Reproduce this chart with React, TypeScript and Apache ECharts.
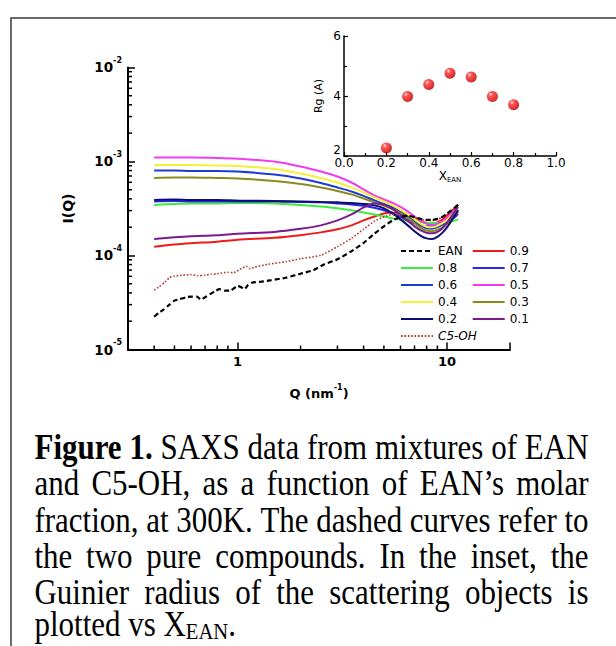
import React, { useEffect, useRef } from 'react';
import * as echarts from 'echarts';

// ---------- data ----------
const Q_MIX = [0.4, 0.5, 0.6, 0.8, 1, 1.5, 2, 2.5, 3, 3.5, 4, 4.5, 5, 5.5, 6, 6.5, 7, 7.5, 8, 8.5, 9, 9.5, 10, 10.5, 11, 11.3];

const I_09 = [1.24e-4, 1.31e-4, 1.35e-4, 1.40e-4, 1.47e-4, 1.54e-4, 1.64e-4, 1.76e-4, 1.90e-4, 2.09e-4, 2.36e-4, 2.60e-4, 2.80e-4, 2.87e-4, 2.80e-4, 2.64e-4, 2.45e-4, 2.31e-4, 2.22e-4, 2.20e-4, 2.25e-4, 2.39e-4, 2.64e-4, 2.94e-4, 3.24e-4, 3.45e-4];
const I_08 = [3.45e-4, 3.53e-4, 3.58e-4, 3.58e-4, 3.62e-4, 3.58e-4, 3.45e-4, 3.32e-4, 3.17e-4, 3.02e-4, 2.87e-4, 2.73e-4, 2.60e-4, 2.48e-4, 2.39e-4, 2.33e-4, 2.28e-4, 2.25e-4, 2.22e-4, 2.22e-4, 2.22e-4, 2.22e-4, 2.25e-4, 2.31e-4, 2.36e-4, 2.42e-4];
const I_07 = [3.76e-4, 3.80e-4, 3.76e-4, 3.76e-4, 3.76e-4, 3.76e-4, 3.71e-4, 3.67e-4, 3.58e-4, 3.49e-4, 3.37e-4, 3.21e-4, 3.02e-4, 2.80e-4, 2.57e-4, 2.36e-4, 2.20e-4, 2.09e-4, 2.04e-4, 2.04e-4, 2.07e-4, 2.14e-4, 2.25e-4, 2.42e-4, 2.60e-4, 2.77e-4];
const I_06 = [8.01e-4, 8.01e-4, 7.91e-4, 7.91e-4, 7.81e-4, 7.26e-4, 6.59e-4, 5.90e-4, 5.29e-4, 4.79e-4, 4.30e-4, 3.85e-4, 3.53e-4, 3.24e-4, 2.94e-4, 2.64e-4, 2.33e-4, 2.09e-4, 1.94e-4, 1.92e-4, 1.99e-4, 2.12e-4, 2.31e-4, 2.54e-4, 2.84e-4, 3.05e-4];
const I_05 = [1.10e-3, 1.10e-3, 1.10e-3, 1.09e-3, 1.07e-3, 9.97e-4, 8.83e-4, 7.81e-4, 6.92e-4, 5.97e-4, 5.04e-4, 4.35e-4, 3.94e-4, 3.62e-4, 3.28e-4, 2.94e-4, 2.60e-4, 2.33e-4, 2.17e-4, 2.12e-4, 2.17e-4, 2.31e-4, 2.51e-4, 2.80e-4, 3.17e-4, 3.49e-4];
const I_04 = [9.16e-4, 9.16e-4, 9.14e-4, 9.05e-4, 8.94e-4, 8.31e-4, 7.44e-4, 6.67e-4, 5.97e-4, 5.29e-4, 4.68e-4, 4.14e-4, 3.76e-4, 3.41e-4, 3.05e-4, 2.73e-4, 2.42e-4, 2.17e-4, 2.02e-4, 1.99e-4, 2.07e-4, 2.20e-4, 2.39e-4, 2.67e-4, 2.98e-4, 3.24e-4];
const I_03 = [6.67e-4, 6.75e-4, 6.75e-4, 6.67e-4, 6.59e-4, 6.20e-4, 5.76e-4, 5.29e-4, 4.86e-4, 4.46e-4, 4.04e-4, 3.67e-4, 3.37e-4, 3.09e-4, 2.80e-4, 2.48e-4, 2.20e-4, 1.97e-4, 1.83e-4, 1.81e-4, 1.87e-4, 1.99e-4, 2.17e-4, 2.42e-4, 2.70e-4, 2.91e-4];
const I_02 = [3.90e-4, 3.94e-4, 3.90e-4, 3.90e-4, 3.85e-4, 3.80e-4, 3.76e-4, 3.71e-4, 3.67e-4, 3.62e-4, 3.53e-4, 3.41e-4, 3.17e-4, 2.80e-4, 2.42e-4, 2.09e-4, 1.81e-4, 1.62e-4, 1.52e-4, 1.50e-4, 1.58e-4, 1.74e-4, 1.99e-4, 2.33e-4, 2.73e-4, 3.02e-4];
const I_01 = [1.50e-4, 1.56e-4, 1.60e-4, 1.64e-4, 1.70e-4, 1.78e-4, 1.92e-4, 2.09e-4, 2.36e-4, 2.73e-4, 3.24e-4, 3.58e-4, 3.49e-4, 3.13e-4, 2.70e-4, 2.33e-4, 2.04e-4, 1.85e-4, 1.74e-4, 1.72e-4, 1.78e-4, 1.94e-4, 2.22e-4, 2.60e-4, 3.02e-4, 3.28e-4];

const Q_EAN = [0.4, 0.42, 0.44, 0.47, 0.5, 0.53, 0.57, 0.6, 0.64, 0.67, 0.7, 0.74, 0.78, 0.82, 0.87, 0.92, 0.97, 1.0, 1.05, 1.08, 1.12, 1.17, 1.3, 1.45, 1.7, 2.0, 2.3, 2.6, 3.0, 3.5, 4.0, 4.5, 5.0, 5.5, 6, 6.5, 7, 7.5, 8, 8.5, 9, 9.5, 10, 10.5, 11, 11.3];
const I_EAN = [2.23e-5, 2.44e-5, 2.62e-5, 2.96e-5, 3.31e-5, 3.43e-5, 3.60e-5, 3.65e-5, 3.65e-5, 3.39e-5, 3.60e-5, 3.88e-5, 4.17e-5, 4.38e-5, 4.22e-5, 4.22e-5, 4.54e-5, 4.77e-5, 4.54e-5, 4.38e-5, 4.83e-5, 5.13e-5, 5.26e-5, 5.46e-5, 5.80e-5, 6.40e-5, 6.97e-5, 8.07e-5, 9.11e-5, 1.11e-4, 1.36e-4, 1.70e-4, 2.04e-4, 2.36e-4, 2.57e-4, 2.64e-4, 2.57e-4, 2.45e-4, 2.39e-4, 2.39e-4, 2.45e-4, 2.57e-4, 2.77e-4, 3.02e-4, 3.28e-4, 3.45e-4];

const Q_C5OH = [0.4, 0.42, 0.45, 0.475, 0.5, 0.55, 0.6, 0.65, 0.7, 0.75, 0.8, 0.9, 0.95, 1.05, 1.1, 1.15, 1.2, 1.4, 1.7, 2.0, 2.5, 3.0, 3.5, 4.0, 4.5, 5, 5.5, 6, 6.5, 7, 7.5, 8, 8.5, 9, 9.5, 10, 10.5, 11, 11.3];
const I_C5OH = [4.28e-5, 4.60e-5, 5.20e-5, 5.83e-5, 6.02e-5, 6.17e-5, 6.24e-5, 6.09e-5, 6.17e-5, 6.32e-5, 6.40e-5, 6.63e-5, 6.55e-5, 7.31e-5, 7.68e-5, 7.23e-5, 7.49e-5, 8.07e-5, 8.58e-5, 9.23e-5, 1.005e-4, 1.24e-4, 1.52e-4, 1.90e-4, 2.31e-4, 2.57e-4, 2.73e-4, 2.73e-4, 2.64e-4, 2.51e-4, 2.42e-4, 2.36e-4, 2.36e-4, 2.42e-4, 2.54e-4, 2.73e-4, 2.98e-4, 3.28e-4, 3.49e-4];

// inset: Guinier radius vs EAN molar fraction
const X_EAN_FRAC = [0.2, 0.3, 0.4, 0.5, 0.6, 0.7, 0.8];
const RG = [2.27, 3.98, 4.38, 4.76, 4.63, 3.98, 3.71];

// minor tick values of the two log axes
const X_MINOR_TICKS = [0.4, 0.5, 0.6, 0.7, 0.8, 0.9, 2, 3, 4, 5, 6, 7, 8, 9];
const Y_MINOR_TICKS = [2e-5, 3e-5, 4e-5, 5e-5, 6e-5, 7e-5, 8e-5, 9e-5, 2e-4, 3e-4, 4e-4, 5e-4, 6e-4, 7e-4, 8e-4, 9e-4, 2e-3, 3e-3, 4e-3, 5e-3, 6e-3, 7e-3, 8e-3, 9e-3];

const X_MIN = 0.3;
const X_MAX = 20;
const Y_MIN = 1e-5;
const Y_MAX = 1e-2;

const LEGEND_LEFT = ['EAN', '0.8', '0.6', '0.4', '0.2', 'C5-OH'];
const LEGEND_RIGHT = ['0.9', '0.7', '0.5', '0.3', '0.1'];

const CAPTION_LINES = [
  'Figure 1. SAXS data from mixtures of EAN',
  'and C5-OH, as a function of EAN\u2019s molar',
  'fraction, at 300K. The dashed curves refer to',
  'the two pure compounds. In the inset, the',
  'Guinier radius of the scattering objects is',
  'plotted vs X',
];
const CAPTION_SUB = 'EAN';
const CAPTION_END = '.';

// ---------- styles ----------
const FONT = '"DejaVu Sans", Verdana, sans-serif';
const SERIF = '"Liberation Serif", "Times New Roman", serif';
const CAP_FS = 36;
const CAP_SUB_FS = 24;
const CAP_SX = 0.86;
const CAP_L = 34.5;
const CAP_R = 588.5;
const CAP_BASELINES = [459, 495, 531.5, 567.5, 604, 635.5];

const MIX_SERIES = [
  { name: '0.9', data: I_09, color: '#f01a1a' },
  { name: '0.8', data: I_08, color: '#3cee3c' },
  { name: '0.7', data: I_07, color: '#2626f0' },
  { name: '0.6', data: I_06, color: '#1e3cd2' },
  { name: '0.5', data: I_05, color: '#f03cf0' },
  { name: '0.4', data: I_04, color: '#f2f23c' },
  { name: '0.3', data: I_03, color: '#8a8a1e' },
  { name: '0.2', data: I_02, color: '#0c0c72' },
  { name: '0.1', data: I_01, color: '#7a1a8c' },
];

function buildCaption(): any[] {
  const canvas = document.createElement('canvas');
  const ctx = canvas.getContext('2d') as CanvasRenderingContext2D;
  const fontStr = (bold: boolean, fs: number) => `${bold ? 'bold ' : ''}${fs}px ${SERIF}`;
  const measure = (t: string, bold: boolean, fs: number) => {
    ctx.font = fontStr(bold, fs);
    return ctx.measureText(t).width * CAP_SX;
  };
  const els: any[] = [];
  const mkText = (t: string, x: number, baseline: number, bold: boolean, fs: number) => ({
    type: 'text',
    x,
    y: baseline - fs * 0.3375,
    scaleX: CAP_SX,
    silent: true,
    style: {
      text: t,
      font: fontStr(bold, fs),
      fill: '#000',
      textAlign: 'left',
      textVerticalAlign: 'middle',
      align: 'left',
      verticalAlign: 'middle',
    },
  });
  CAPTION_LINES.forEach((line, li) => {
    const words = line.split(' ');
    const bolds = words.map((_, wi) => li === 0 && wi < 2);
    const widths = words.map((w, wi) => measure(w, bolds[wi], CAP_FS));
    const total = widths.reduce((a, b) => a + b, 0);
    const justify = li < CAPTION_LINES.length - 1;
    const gap = justify ? (CAP_R - CAP_L - total) / (words.length - 1) : measure(' ', false, CAP_FS);
    let x = CAP_L;
    words.forEach((w, wi) => {
      els.push(mkText(w, x, CAP_BASELINES[li], bolds[wi], CAP_FS));
      x += widths[wi] + (wi < words.length - 1 ? gap : 0);
    });
    if (!justify) {
      els.push(mkText(CAPTION_SUB, x, CAP_BASELINES[li] + 3.5, false, CAP_SUB_FS));
      x += measure(CAPTION_SUB, false, CAP_SUB_FS);
      els.push(mkText(CAPTION_END, x, CAP_BASELINES[li], false, CAP_FS));
    }
  });
  return els;
}

const isPow10 = (v: number) => {
  const e = Math.log10(v);
  return Math.abs(e - Math.round(e)) < 1e-6;
};

export default function App() {
  const ref = useRef<HTMLDivElement>(null);

  useEffect(() => {
    if (!ref.current) return;
    const chart = echarts.init(ref.current, undefined, { renderer: 'svg' });

    const lineSeries: any[] = MIX_SERIES.map((s) => ({
      name: s.name,
      type: 'line',
      xAxisIndex: 0,
      yAxisIndex: 0,
      symbol: 'none',
      smooth: 0.3,
      z: 2,
      data: Q_MIX.map((q, i) => [q, s.data[i]]),
      lineStyle: { color: s.color, width: 2 },
      itemStyle: { color: s.color, opacity: 0 },
    }));
    lineSeries.push({
      name: 'C5-OH',
      type: 'line',
      xAxisIndex: 0,
      yAxisIndex: 0,
      symbol: 'none',
      smooth: 0.2,
      z: 3,
      data: Q_C5OH.map((q, i) => [q, I_C5OH[i]]),
      lineStyle: { color: '#b03a34', width: 1.6, type: [1.6, 1.8] },
      itemStyle: { color: '#b03a34', opacity: 0 },
    });
    lineSeries.push({
      name: 'EAN',
      type: 'line',
      xAxisIndex: 0,
      yAxisIndex: 0,
      symbol: 'none',
      smooth: 0.2,
      z: 3,
      data: Q_EAN.map((q, i) => [q, I_EAN[i]]),
      lineStyle: { color: '#000', width: 2.2, type: [5, 3] },
      itemStyle: { color: '#000', opacity: 0 },
    });

    const tickSeries = [
      {
        type: 'custom',
        xAxisIndex: 0,
        yAxisIndex: 0,
        silent: true,
        z: 5,
        data: X_MINOR_TICKS.map((v) => [v, Y_MIN]),
        renderItem: (_p: any, api: any) => {
          const p = api.coord([api.value(0), api.value(1)]);
          return { type: 'line', shape: { x1: p[0], y1: p[1], x2: p[0], y2: p[1] - 4 }, style: { stroke: '#000', lineWidth: 1.5 } };
        },
      },
      {
        type: 'custom',
        xAxisIndex: 0,
        yAxisIndex: 0,
        silent: true,
        z: 5,
        data: Y_MINOR_TICKS.map((v) => [X_MIN, v]),
        renderItem: (_p: any, api: any) => {
          const p = api.coord([api.value(0), api.value(1)]);
          return { type: 'line', shape: { x1: p[0], y1: p[1], x2: p[0] + 4, y2: p[1] }, style: { stroke: '#000', lineWidth: 1.5 } };
        },
      },
    ];

    const sphere = new echarts.graphic.RadialGradient(0.35, 0.3, 0.75, [
      { offset: 0, color: '#fff2f2' },
      { offset: 0.25, color: '#ff3030' },
      { offset: 0.75, color: '#dc0000' },
      { offset: 1, color: '#900000' },
    ]);

    const legendBase = {
      orient: 'vertical',
      top: 244,
      padding: 0,
      itemWidth: 32,
      itemHeight: 14,
      itemGap: 3,
      selectedMode: false,
      itemStyle: { opacity: 0 },
      textStyle: { fontFamily: FONT, fontSize: 12, color: '#000', lineHeight: 14 },
    };

    const option: any = {
      animation: false,
      backgroundColor: '#fff',
      grid: [
        { left: 128, right: 106, top: 67.4, bottom: 296.5 },
        { left: 344, width: 212, top: 36, height: 120 },
      ],
      xAxis: [
        {
          type: 'log',
          logBase: 10,
          gridIndex: 0,
          min: X_MIN,
          max: X_MAX,
          axisLine: { lineStyle: { color: '#000', width: 2 } },
          axisTick: { inside: true, length: 7, lineStyle: { color: '#000', width: 1.5 } },
          axisLabel: {
            formatter: (v: number) => (isPow10(v) ? String(Math.round(v)) : ''),
            fontFamily: FONT,
            fontSize: 13,
            fontWeight: 'bold',
            color: '#000',
            margin: 5,
          },
          splitLine: { show: false },
          name: '{b|Q (nm}{s|-1}{b|)}',
          nameLocation: 'middle',
          nameGap: 34,
          nameTextStyle: {
            rich: {
              b: { fontFamily: FONT, fontSize: 13, fontWeight: 'bold', color: '#000', lineHeight: 16 },
              s: { fontFamily: FONT, fontSize: 8, fontWeight: 'bold', color: '#000', padding: [0, 0, 12, 0] },
            },
          },
        },
        {
          type: 'value',
          gridIndex: 1,
          min: 0,
          max: 1,
          interval: 0.2,
          axisLine: { lineStyle: { color: '#000', width: 1.5 } },
          axisTick: { inside: true, length: 4, lineStyle: { color: '#000', width: 1.2 } },
          minorTick: { show: true, splitNumber: 2, length: 3, lineStyle: { color: '#000', width: 1.2 } },
          axisLabel: { formatter: (v: number) => v.toFixed(1), fontFamily: FONT, fontSize: 12, color: '#000', margin: 1 },
          splitLine: { show: false },
          minorSplitLine: { show: false },
          name: '{b|X}{s|EAN}',
          nameLocation: 'middle',
          nameGap: 11,
          nameTextStyle: {
            rich: {
              b: { fontFamily: FONT, fontSize: 12, color: '#000', lineHeight: 14 },
              s: { fontFamily: FONT, fontSize: 7, color: '#000', padding: [9, 0, 0, 0] },
            },
          },
        },
      ],
      yAxis: [
        {
          type: 'log',
          logBase: 10,
          gridIndex: 0,
          min: Y_MIN,
          max: Y_MAX,
          axisLine: { lineStyle: { color: '#000', width: 2 } },
          axisTick: { inside: true, length: 7, lineStyle: { color: '#000', width: 1.5 } },
          axisLabel: {
            formatter: (v: number) => (isPow10(v) ? `{b|10}{s|${Math.round(Math.log10(v))}}` : ''),
            margin: 6,
            rich: {
              b: { fontFamily: FONT, fontSize: 13.5, fontWeight: 'bold', color: '#000', lineHeight: 16 },
              s: { fontFamily: FONT, fontSize: 8, fontWeight: 'bold', color: '#000', padding: [0, 0, 14, 0] },
            },
          },
          splitLine: { show: false },
          name: 'I(Q)',
          nameLocation: 'middle',
          nameGap: 53,
          nameTextStyle: { fontFamily: FONT, fontSize: 14, fontWeight: 'bold', color: '#000' },
        },
        {
          type: 'value',
          gridIndex: 1,
          min: 2,
          max: 6,
          interval: 2,
          axisLine: { lineStyle: { color: '#000', width: 1.5 } },
          axisTick: { inside: true, length: 4, lineStyle: { color: '#000', width: 1.2 } },
          minorTick: { show: true, splitNumber: 2, length: 3, lineStyle: { color: '#000', width: 1.2 } },
          axisLabel: {
            formatter: (v: number) => (v === 2 ? '{lo|2}' : String(v)),
            fontFamily: FONT,
            fontSize: 12,
            color: '#000',
            margin: 3,
            rich: { lo: { fontFamily: FONT, fontSize: 12, color: '#000', padding: [0, 0, 12, 0] } },
          },
          splitLine: { show: false },
          minorSplitLine: { show: false },
          name: 'Rg (A)',
          nameLocation: 'middle',
          nameGap: 20,
          nameTextStyle: { fontFamily: FONT, fontSize: 11, color: '#000' },
        },
      ],
      legend: [
        { ...legendBase, left: 400, data: LEGEND_LEFT.map((n) => (n === 'C5-OH' ? { name: n, textStyle: { fontStyle: 'italic' } } : { name: n })) },
        { ...legendBase, left: 471.7, data: LEGEND_RIGHT },
      ],
      series: [
        ...lineSeries,
        ...tickSeries,
        {
          name: 'Rg',
          type: 'scatter',
          xAxisIndex: 1,
          yAxisIndex: 1,
          symbolSize: 11,
          data: X_EAN_FRAC.map((x, i) => [x, RG[i]]),
          itemStyle: { color: sphere },
          z: 6,
        },
      ],
      graphic: {
        elements: [
          {
            type: 'rect',
            silent: true,
            shape: { x: 11, y: 18, width: 800, height: 800 },
            style: { fill: 'none', stroke: '#3a3a3a', lineWidth: 1.5 },
          },
          ...buildCaption(),
        ],
      },
    };

    chart.setOption(option);
    return () => chart.dispose();
  }, []);

  return (
    <div
      ref={ref}
      style={{ position: 'absolute', left: 0, top: 0, width: 616, height: 646, background: '#fff' }}
    />
  );
}
